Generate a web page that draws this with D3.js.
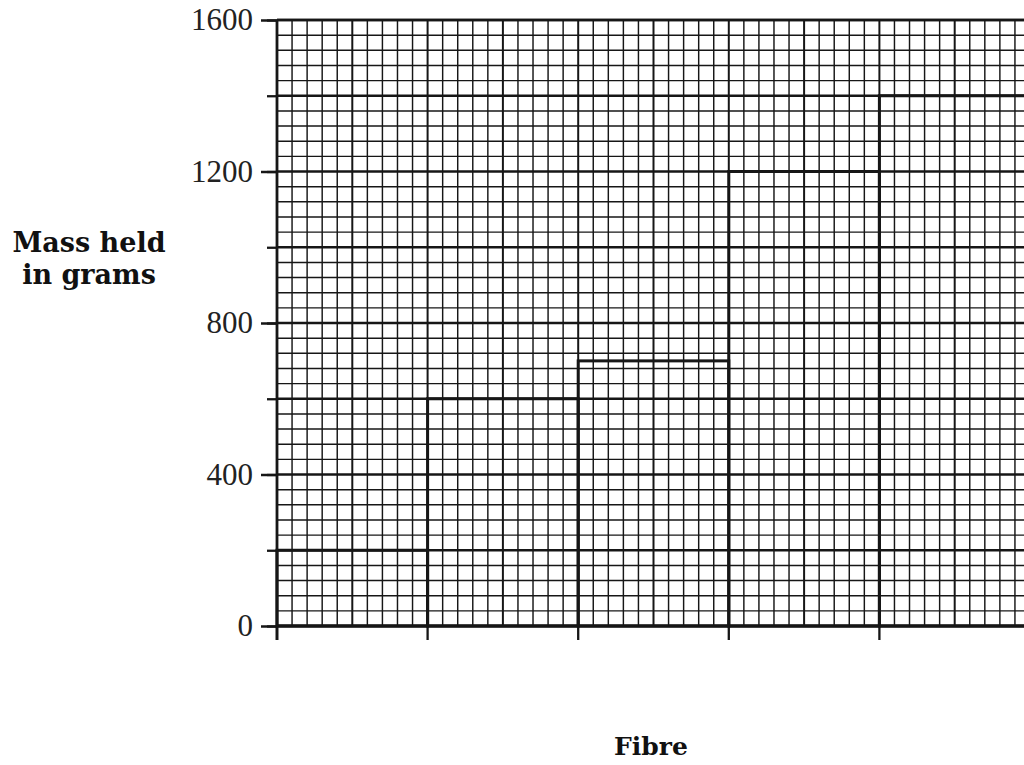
<!DOCTYPE html>
<html>
<head>
<meta charset="utf-8">
<script src="https://cdn.jsdelivr.net/npm/d3@7"></script>
<style>
  html, body { margin: 0; padding: 0; background: #fff; }
  svg { display: block; }
</style>
</head>
<body>
<script>
'use strict';

// fibres tested (unnamed on the sheet) and the mass each held
var fibres = ['A', 'B', 'C', 'D', 'E'];
var massHeld = [200, 600, 700, 1200, 1400];
var yTickLabels = [0, 400, 800, 1200, 1600];
var yMajor = [0, 200, 400, 600, 800, 1000, 1200, 1400, 1600];

var W = 1024, H = 765;
var plotLeft = 277, plotRight = 1030, plotTop = 20, plotBottom = 626;
var ink = '#161616';

var svg = d3.select('body').append('svg')
  .attr('width', W)
  .attr('height', H);

var x = d3.scaleBand().domain(fibres).range([plotLeft, plotRight]).padding(0);
var y = d3.scaleLinear().domain([0, 1600]).range([plotBottom, plotTop]);

// graph paper: 10 small squares per fibre, 5 per 200 g
var sub = 10;
var vx = d3.range(0, fibres.length * sub + 1).map(function (i) {
  return plotLeft + i * x.bandwidth() / sub;
});
var hy = d3.range(0, 1600 + 1, 40);

var grid = svg.append('g');
grid.selectAll('line.v').data(vx).enter().append('line')
  .attr('x1', function (d) { return d; })
  .attr('x2', function (d) { return d; })
  .attr('y1', plotTop).attr('y2', plotBottom)
  .attr('stroke', ink)
  .attr('stroke-width', function (d, i) { return i % 5 === 0 ? 2 : 1.45; });

grid.selectAll('line.h').data(hy).enter().append('line')
  .attr('x1', plotLeft).attr('x2', plotRight)
  .attr('y1', function (d) { return y(d); })
  .attr('y2', function (d) { return y(d); })
  .attr('stroke', ink)
  .attr('stroke-width', function (d) { return d % 200 === 0 ? 2.3 : 1.45; });

// short ticks at every 200 g line
svg.append('g')
  .attr('transform', 'translate(' + plotLeft + ',0)')
  .call(d3.axisLeft(y).tickValues(yMajor).tickSize(10).tickFormat(''))
  .call(function (g) {
    g.select('.domain').remove();
    g.selectAll('line').attr('stroke', ink).attr('stroke-width', 2.3);
  });

// labelled ticks
svg.append('g')
  .attr('transform', 'translate(' + plotLeft + ',0)')
  .call(d3.axisLeft(y).tickValues(yTickLabels).tickSize(16).tickPadding(8).tickFormat(d3.format('d')))
  .call(function (g) {
    g.select('.domain').remove();
    g.selectAll('line').attr('stroke', ink).attr('stroke-width', 2.5);
    g.selectAll('text')
      .attr('fill', '#222')
      .style('font-family', '"Liberation Serif", serif')
      .style('font-size', '31px');
  });

// bars drawn as heavy outlines on the paper
svg.append('g').selectAll('rect').data(massHeld).enter().append('rect')
  .attr('x', function (d, i) { return x(fibres[i]); })
  .attr('y', function (d) { return y(d); })
  .attr('width', x.bandwidth())
  .attr('height', function (d) { return y(0) - y(d); })
  .attr('fill', 'none')
  .attr('stroke', ink)
  .attr('stroke-width', 3);

// axes
svg.append('line')
  .attr('x1', plotLeft).attr('x2', plotLeft)
  .attr('y1', plotTop).attr('y2', plotBottom + 14)
  .attr('stroke', ink).attr('stroke-width', 2.8);
svg.append('line')
  .attr('x1', plotLeft).attr('x2', plotRight)
  .attr('y1', y(0)).attr('y2', y(0))
  .attr('stroke', ink).attr('stroke-width', 3);
svg.append('line')
  .attr('x1', plotLeft).attr('x2', plotRight)
  .attr('y1', y(1600)).attr('y2', y(1600))
  .attr('stroke', ink).attr('stroke-width', 2.5);

// x ticks at the fibre boundaries
svg.append('g').selectAll('line').data(fibres).enter().append('line')
  .attr('x1', function (d) { return x(d); })
  .attr('x2', function (d) { return x(d); })
  .attr('y1', plotBottom).attr('y2', plotBottom + 14)
  .attr('stroke', ink).attr('stroke-width', 2.3);

// titles
var ylab = svg.append('text')
  .attr('text-anchor', 'middle')
  .attr('fill', '#111')
  .style('font-family', '"DejaVu Serif", serif')
  .style('font-weight', 'bold')
  .style('font-size', '27px');
ylab.append('tspan').attr('x', 89).attr('y', 252).text('Mass held');
ylab.append('tspan').attr('x', 89).attr('y', 284).text('in grams');

svg.append('text')
  .attr('x', 651).attr('y', 755)
  .attr('text-anchor', 'middle')
  .attr('fill', '#111')
  .style('font-family', '"DejaVu Serif", serif')
  .style('font-weight', 'bold')
  .style('font-size', '25px')
  .text('Fibre');
</script>
</body>
</html>
